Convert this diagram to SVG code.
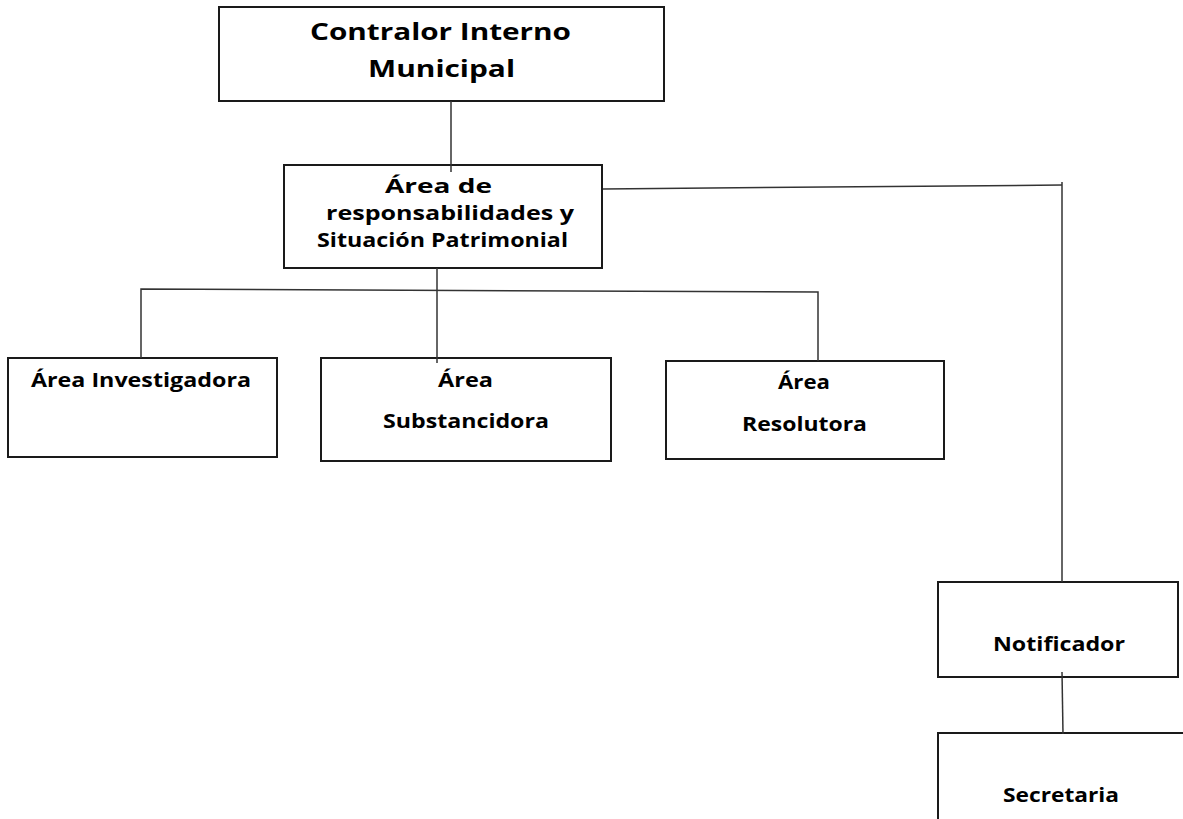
<svg xmlns="http://www.w3.org/2000/svg" width="1183" height="819" viewBox="0 0 1183 819">
<style>
.box{fill:#fff;stroke:#1a1a1a;stroke-width:2}
.lbl{font-family:"Open Sans","Noto Sans",sans-serif;font-weight:bold;fill:#000;text-anchor:middle}
.t18{font-size:19px}
.t21{font-size:24px}
.con{fill:none;stroke:#333;stroke-width:1.5}
</style>
<rect width="1183" height="819" fill="#fff"/>
<g id="contralor">
<rect class="box" x="219" y="7" width="445" height="94"/>
<text class="lbl t21" x="440.5" y="40" textLength="261" lengthAdjust="spacingAndGlyphs">Contralor Interno</text>
<text class="lbl t21" x="441.5" y="77" textLength="147" lengthAdjust="spacingAndGlyphs">Municipal</text>
</g>
<g id="responsabilidades">
<rect class="box" x="284" y="165" width="318" height="103"/>
<text class="lbl t18" x="438.5" y="193" textLength="107" lengthAdjust="spacingAndGlyphs">Área de</text>
<text class="lbl t18" x="450" y="220" textLength="248" lengthAdjust="spacingAndGlyphs">responsabilidades y</text>
<text class="lbl t18" x="442.5" y="247" textLength="251" lengthAdjust="spacingAndGlyphs">Situación Patrimonial</text>
</g>
<g id="investigadora">
<rect class="box" x="8" y="358" width="269" height="99"/>
<text class="lbl t18" x="141" y="387" textLength="220" lengthAdjust="spacingAndGlyphs">Área Investigadora</text>
</g>
<g id="substancidora">
<rect class="box" x="321" y="358" width="290" height="103"/>
<text class="lbl t18" x="465.5" y="387" textLength="55" lengthAdjust="spacingAndGlyphs">Área</text>
<text class="lbl t18" x="466" y="428" textLength="166" lengthAdjust="spacingAndGlyphs">Substancidora</text>
</g>
<g id="resolutora">
<rect class="box" x="666" y="361" width="278" height="98"/>
<text class="lbl t18" x="804" y="389" textLength="52" lengthAdjust="spacingAndGlyphs">Área</text>
<text class="lbl t18" x="804.5" y="431" textLength="125" lengthAdjust="spacingAndGlyphs">Resolutora</text>
</g>
<g id="notificador">
<rect class="box" x="938" y="582" width="240" height="95"/>
<text class="lbl t18" x="1059" y="651" textLength="132" lengthAdjust="spacingAndGlyphs">Notificador</text>
</g>
<g id="secretaria">
<rect class="box" x="938" y="733" width="260" height="100"/>
<text class="lbl t18" x="1061" y="802" textLength="116" lengthAdjust="spacingAndGlyphs">Secretaria</text>
</g>
<g id="connectors">
<line class="con" x1="451" y1="101" x2="451" y2="172"/>
<line class="con" x1="437" y1="268" x2="437" y2="363"/>
<polyline class="con" points="141,358 141,289 818,292 818,361"/>
<polyline class="con" points="603,189 1062,185"/>
<line class="con" x1="1062" y1="182" x2="1062" y2="582"/>
<line class="con" x1="1062" y1="672" x2="1063" y2="734"/>
</g>
</svg>
